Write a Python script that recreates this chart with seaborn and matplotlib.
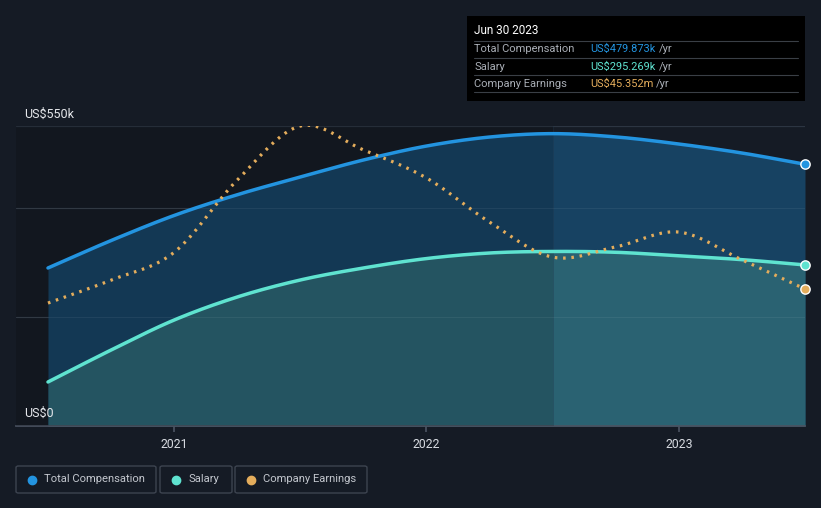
import numpy as np
import pandas as pd
import matplotlib
matplotlib.use("Agg")
import matplotlib.pyplot as plt
from matplotlib.patches import FancyBboxPatch, Rectangle
import seaborn as sns

# quarterly readings, Jun 2020 .. Jun 2023
anos = [2020.5, 2020.75, 2021.0, 2021.25, 2021.5, 2021.75, 2022.0,
        2022.25, 2022.5, 2022.75, 2023.0, 2023.25, 2023.5]
remuneracao_total = [289.7, 340.0, 386.0, 424.0, 456.5, 487.7, 513.3,
                     529.8, 536.0, 530.0, 517.0, 500.5, 479.873]  # US$k
salario = [80.7, 139.3, 194.3, 236.5, 267.7, 289.7, 307.0,
           317.2, 320.0, 318.5, 312.0, 305.0, 295.269]  # US$k
lucro = [40.7, 48.3, 57.5, 81.4, 99.3, 91.4, 82.1,
         67.5, 55.9, 59.3, 64.2, 55.0, 45.352]  # US$m
anos_ticks = [2021, 2022, 2023]

FUNDO = "#151b25"
AZUL = "#2394e0"
CIANO = "#5fe3d0"
LARANJA = "#e4ad5c"
W, H = 821, 508

sns.set_theme(style="dark")
plt.rcParams["font.family"] = ["Roboto", "DejaVu Sans"]


def suavizar(x, y, n=400):
    # cubic hermite with catmull-rom tangents, only to draw a smooth curve through the readings
    x = np.asarray(x, float)
    y = np.asarray(y, float)
    h = np.diff(x)
    m = np.zeros_like(y)
    m[1:-1] = (y[2:] - y[:-2]) / (x[2:] - x[:-2])
    m[0] = (y[1] - y[0]) / h[0]
    m[-1] = (y[-1] - y[-2]) / h[-1]
    xs = np.linspace(x[0], x[-1], n)
    idx = np.clip(np.searchsorted(x, xs) - 1, 0, len(h) - 1)
    t = (xs - x[idx]) / h[idx]
    h00 = 2 * t**3 - 3 * t**2 + 1
    h10 = t**3 - 2 * t**2 + t
    h01 = -2 * t**3 + 3 * t**2
    h11 = t**3 - t**2
    ys = h00 * y[idx] + h10 * h[idx] * m[idx] + h01 * y[idx + 1] + h11 * h[idx] * m[idx + 1]
    return xs, ys


def px(x, y):
    return x / W, 1 - y / H


fig = plt.figure(figsize=(W / 100, H / 100), dpi=100, facecolor=FUNDO)
ax = fig.add_axes([16 / W, 1 - 426 / H, (805 - 16) / W, 300 / H])
ax.set_facecolor(FUNDO)
ax2 = ax.twinx()

xt, yt = suavizar(anos, remuneracao_total)
xs, ys = suavizar(anos, salario)
xl, yl = suavizar(anos, lucro)
df = pd.DataFrame({"ano": xt, "total": yt, "salario": ys, "lucro": yl})

# fills
ax.fill_between(df["ano"], 0, df["total"], color="#174262", lw=0, zorder=1)
ax.fill_between(df["ano"], 0, df["salario"], color="#2a6272", lw=0, zorder=2)
# darker past region
ax.axvspan(2020.3, 2022.5, color="black", alpha=0.14, lw=0, zorder=3)
ax.axvline(2022.5, color="#1f3346", lw=0.6, alpha=0.4, zorder=3)

for v in [200, 400, 550]:
    ax.axhline(v, color="#2c3542", lw=0.9, zorder=0.5)
for v in [200, 400]:
    ax.axhline(v, color="#ffffff", lw=0.8, alpha=0.06, zorder=4)

sns.lineplot(data=df, x="ano", y="total", ax=ax, color=AZUL, lw=2.5, zorder=5)
sns.lineplot(data=df, x="ano", y="salario", ax=ax, color=CIANO, lw=2.5, zorder=5)
sns.lineplot(data=df, x="ano", y="lucro", ax=ax2, color=LARANJA, lw=2.3,
             linestyle=(0, (0.8, 1.8)), zorder=5)
ax.scatter([anos[-1]], [remuneracao_total[-1]], s=45, color=AZUL, edgecolor="white", lw=1, zorder=7, clip_on=False)
ax.scatter([anos[-1]], [salario[-1]], s=45, color=CIANO, edgecolor="white", lw=1, zorder=7, clip_on=False)
ax2.scatter([anos[-1]], [lucro[-1]], s=45, color=LARANJA, edgecolor="white", lw=1, zorder=7, clip_on=False)

x0 = 2020.5 - 32 / 252.5
ax.set_xlim(x0, 2023.5)
ax.set_ylim(0, 550)
ax2.set_ylim(0, 300 * lucro[-1] / 137)
ax2.set_yticks([])
ax2.set_ylabel("")
ax.set_ylabel("")
ax.set_xlabel("")
ax.set_yticks([])
ax.set_xticks(anos_ticks)
ax.set_xticklabels([str(a) for a in anos_ticks], color="#d8dce2", fontsize=8.8)
ax.tick_params(axis="x", length=4, color="#4a5260", pad=5, bottom=True)
for s in ["top", "left", "right"]:
    ax.spines[s].set_visible(False)
    ax2.spines[s].set_visible(False)
ax.spines["bottom"].set_color("#4a5260")
ax2.spines["bottom"].set_visible(False)
ax.grid(False)
ax2.grid(False)

fig.text(*px(24, 114), "US$550k", color="#e6e8ec", fontsize=9, va="center", ha="left")
fig.text(*px(24, 413.5), "US$0", color="#e6e8ec", fontsize=9, va="center", ha="left", zorder=8)

# tooltip
fig.patches.append(Rectangle(px(467, 101), 338 / W, 85 / H, transform=fig.transFigure,
                             facecolor="#000000", edgecolor="none", zorder=10))
fig.text(*px(474, 31), "Jun 30 2023", color="white", fontsize=8.5, va="center", zorder=11)
linhas = [("Total Compensation", "US$479.873k", AZUL, 659),
          ("Salary", "US$295.269k", CIANO, 659),
          ("Company Earnings", "US$45.352m", LARANJA, 656)]
for i, (nome, valor, cor, xyr) in enumerate(linhas):
    yy = 49 + i * 17.5
    fig.text(*px(474, yy), nome, color="#a9aeb6", fontsize=8, va="center", zorder=11)
    fig.text(*px(590, yy), valor, color=cor, fontsize=7.9, va="center", zorder=11)
    fig.text(*px(xyr, yy), "/yr", color="#a9aeb6", fontsize=8, va="center", zorder=11)
for yy in [41, 58, 75, 92]:
    fig.add_artist(plt.Line2D([474 / W, 798 / W], [1 - yy / H] * 2, color="#3a3f46", lw=0.8,
                              transform=fig.transFigure, zorder=11))

# legend boxes
caixas = [(16, 156, "Total Compensation", AZUL), (160, 232, "Salary", CIANO),
          (235, 367, "Company Earnings", LARANJA)]
for xa, xb, nome, cor in caixas:
    fig.patches.append(FancyBboxPatch(px(xa, 493), (xb - xa) / W, 27 / H,
                                      boxstyle="round,pad=0,rounding_size=0.003",
                                      transform=fig.transFigure, facecolor=FUNDO,
                                      edgecolor="#3d4450", lw=1))
    fig.add_artist(plt.Line2D([(xa + 16) / W], [1 - 479.5 / H], marker="o", markersize=6,
                              color=cor, transform=fig.transFigure))
    fig.text(*px(xa + 28, 479.5), nome, color="#c3c7ce", fontsize=8.1, va="center")

fig.savefig("out.png", dpi=100, facecolor=FUNDO)
